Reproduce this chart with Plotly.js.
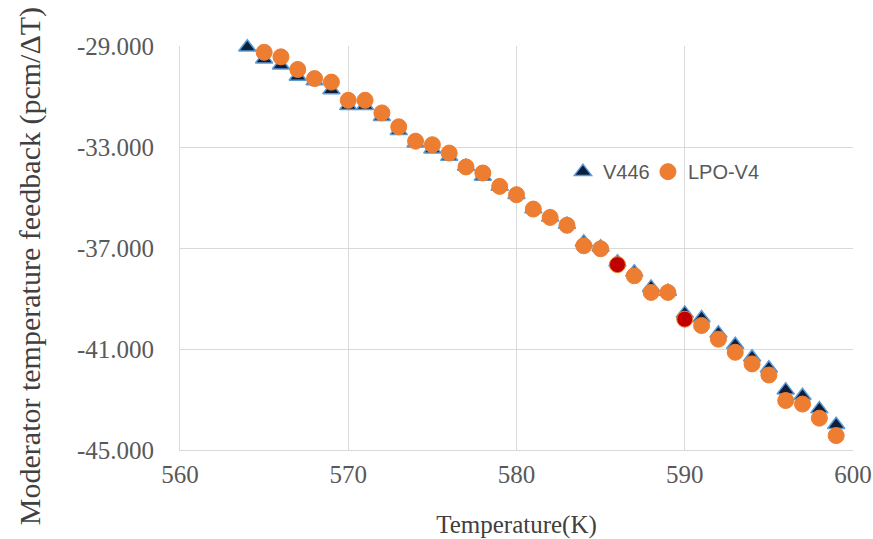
<!DOCTYPE html>
<html>
<head>
<meta charset="utf-8">
<script src="https://cdn.plot.ly/plotly-3.0.1.min.js"></script>
<style>html,body{margin:0;padding:0;background:#fff;}#chart{width:873px;height:539px;}</style>
</head>
<body>
<div id="chart"></div>
<script>
// Data
const tempV446 = [564,565,566,567,568,569,570,571,572,573,574,575,576,577,578,579,580,581,582,583,584,585,586,587,588,589,590,591,592,593,594,595,596,597,598,599];
const valV446 = [-29.05,-29.52,-29.76,-30.21,-30.39,-30.74,-31.37,-31.37,-31.80,-32.36,-32.85,-33.09,-33.38,-33.77,-34.17,-34.56,-34.89,-35.46,-35.78,-36.07,-36.77,-36.97,-37.56,-37.96,-38.56,-38.72,-39.59,-39.77,-40.38,-40.83,-41.33,-41.76,-42.63,-42.85,-43.38,-44.00];
const tempLPO = [565,566,567,568,569,570,571,572,573,574,575,576,577,578,579,580,581,582,583,584,585,586,587,588,589,590,591,592,593,594,595,596,597,598,599];
const valLPO = [-29.25,-29.43,-29.93,-30.29,-30.43,-31.15,-31.15,-31.65,-32.20,-32.77,-32.91,-33.24,-33.79,-34.03,-34.56,-34.89,-35.46,-35.79,-36.10,-36.91,-37.03,-37.66,-38.10,-38.76,-38.76,-39.82,-40.07,-40.61,-41.13,-41.59,-42.03,-43.04,-43.18,-43.74,-44.43];
const highlightedLPO = [586, 590];
const seriesNames = ['V446', 'LPO-V4'];
const xTickVals = [560, 570, 580, 590, 600];
const xTickText = ['560', '570', '580', '590', '600'];
const yTickVals = [-45, -41, -37, -33, -29];
const yTickText = ['-45.000', '-41.000', '-37.000', '-33.000', '-29.000'];
const xTitle = 'Temperature(K)';
const yTitle = 'Moderator temperature feedback (pcm/ΔT)';

const lpoColors = tempLPO.map(t => highlightedLPO.includes(t) ? '#C00000' : '#ED7D31');

const traces = [
  {
    type: 'scatter', mode: 'markers', name: seriesNames[0], legend: 'legend',
    x: tempV446, y: valV446, cliponaxis: false,
    marker: {symbol: 'triangle-up', size: 15, color: '#0E1F3D', line: {color: '#5B9BD5', width: 1.5}}
  },
  {
    type: 'scatter', mode: 'markers', name: seriesNames[1], legend: 'legend2',
    x: tempLPO, y: valLPO, cliponaxis: false,
    marker: {symbol: 'circle', size: 16, color: lpoColors, line: {color: '#ED7D31', width: 1}}
  }
];

const serif = 'Liberation Serif, Times New Roman, serif';
const legendFont = {family: 'Liberation Sans, Arial, sans-serif', size: 20, color: '#595959'};
const layout = {
  width: 873, height: 539,
  margin: {l: 180, r: 20, t: 46, b: 89},
  paper_bgcolor: '#fff', plot_bgcolor: '#fff',
  showlegend: true,
  legend: {
    orientation: 'h', x: 0.569, y: 0.689, xanchor: 'left', yanchor: 'middle',
    font: legendFont, bgcolor: 'rgba(0,0,0,0)'
  },
  legend2: {
    orientation: 'h', x: 0.6953, y: 0.689, xanchor: 'left', yanchor: 'middle',
    font: legendFont, bgcolor: 'rgba(0,0,0,0)'
  },
  xaxis: {
    range: [560, 600], tickvals: xTickVals, ticktext: xTickText,
    showgrid: true, gridcolor: '#D9D9D9', gridwidth: 1,
    showline: true, linecolor: '#D9D9D9', linewidth: 1,
    zeroline: false, ticks: '', ticklabelstandoff: 2,
    tickfont: {family: serif, size: 25, color: '#595959'},
    title: {text: xTitle, font: {family: serif, size: 25, color: '#404040'}, standoff: 28}
  },
  yaxis: {
    range: [-45, -29], tickvals: yTickVals, ticktext: yTickText,
    showgrid: true, gridcolor: '#D9D9D9', gridwidth: 1,
    showline: true, linecolor: '#D9D9D9', linewidth: 1,
    zeroline: false, ticks: '', ticklabelstandoff: 20,
    tickfont: {family: serif, size: 25, color: '#595959'}
  },
  annotations: [{
    text: yTitle, textangle: -90, showarrow: false,
    xref: 'paper', yref: 'paper', x: -0.2229, y: 0.455,
    xanchor: 'center', yanchor: 'middle',
    font: {family: serif, size: 30, color: '#404040'}
  }]
};

Plotly.newPlot('chart', traces, layout, {staticPlot: true, displayModeBar: false});
</script>
</body>
</html>
